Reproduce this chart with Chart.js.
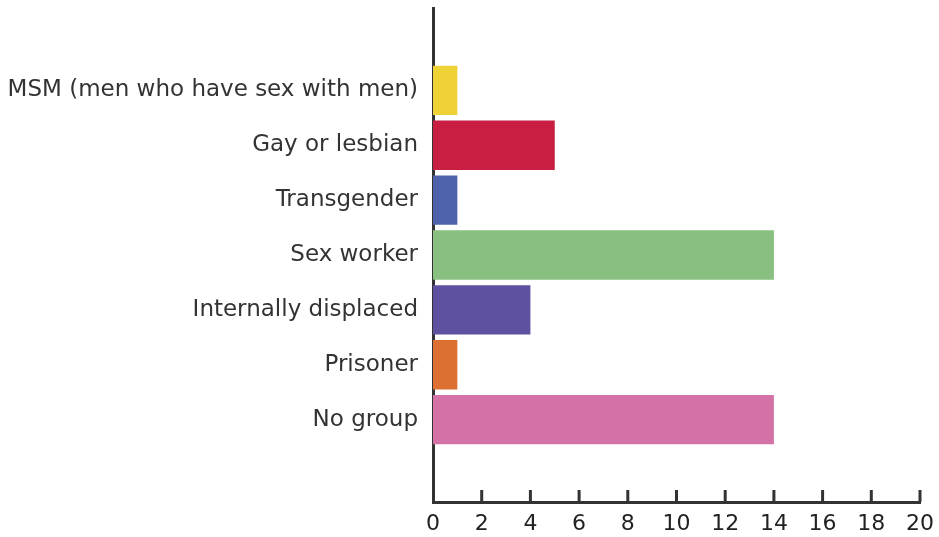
<!DOCTYPE html>
<html>
<head>
<meta charset="utf-8">
<script src="https://cdn.jsdelivr.net/npm/chart.js@4"></script>
<style>
    body { margin: 0; background: #fff; }
    #wrap { width: 939px; height: 537px; position: relative; }
</style>
</head>
<body>
<div id="wrap"><canvas id="groupChart"></canvas></div>
<script>
const categories = [
    "MSM (men who have sex with men)",
    "Gay or lesbian",
    "Transgender",
    "Sex worker",
    "Internally displaced",
    "Prisoner",
    "No group",
];
const counts = [1, 5, 1, 14, 4, 1, 14];
const barColors = ["#efd236", "#c71e42", "#4f63ad", "#89bf81", "#5e52a0", "#dc7033", "#d472a7"];
const xTicks = [0, 2, 4, 6, 8, 10, 12, 14, 16, 18, 20];

// empty rows above and below so the axis runs past the bars
const labels = [""].concat(categories, [""]);
const values = [null].concat(counts, [null]);
const colors = ["#fff"].concat(barColors, ["#fff"]);

const axisColor = "#333333";
const labelFont = "DejaVu Sans";

// small tick marks pointing up into the plot
const innerTicks = {
    id: "innerTicks",
    afterDraw(chart) {
        const x = chart.scales.x;
        const ctx = chart.ctx;
        const bottom = chart.chartArea.bottom;
        ctx.save();
        ctx.strokeStyle = axisColor;
        ctx.lineWidth = 3;
        xTicks.forEach(function (v) {
            if (v === 0) return;
            const px = x.getPixelForValue(v);
            ctx.beginPath();
            ctx.moveTo(px, bottom - 12);
            ctx.lineTo(px, bottom);
            ctx.stroke();
        });
        ctx.restore();
    },
};

document.addEventListener("DOMContentLoaded", function () {
    const ctx = document.getElementById("groupChart");
    if (!ctx) return;

    new Chart(ctx, {
        type: "bar",
        data: {
            labels: labels,
            datasets: [
                {
                    data: values,
                    backgroundColor: colors,
                    borderWidth: 0,
                    barPercentage: 0.9,
                    categoryPercentage: 1,
                },
            ],
        },
        options: {
            indexAxis: "y",
            responsive: true,
            maintainAspectRatio: false,
            animation: false,
            layout: {
                padding: { top: 8, right: 19, bottom: 0, left: 0 },
            },
            plugins: {
                legend: { display: false },
                tooltip: { enabled: false },
            },
            scales: {
                x: {
                    min: 0,
                    max: 20,
                    afterBuildTicks: function (scale) {
                        scale.ticks = xTicks.map(function (v) { return { value: v }; });
                    },
                    afterFit: function (scale) {
                        scale.height = 35;
                    },
                    grid: { display: false },
                    border: { color: axisColor, width: 3 },
                    ticks: {
                        color: "#222",
                        padding: 1,
                        maxRotation: 0,
                        font: { family: labelFont, size: 22 },
                    },
                },
                y: {
                    afterFit: function (scale) {
                        scale.width = 433;
                        scale.paddingTop = 0;
                        scale.paddingBottom = 0;
                    },
                    grid: { display: false },
                    border: { color: axisColor, width: 3 },
                    ticks: {
                        color: "#333",
                        padding: 7,
                        font: { family: labelFont, size: 23 },
                    },
                },
            },
        },
        plugins: [innerTicks],
    });
});
</script>
</body>
</html>
